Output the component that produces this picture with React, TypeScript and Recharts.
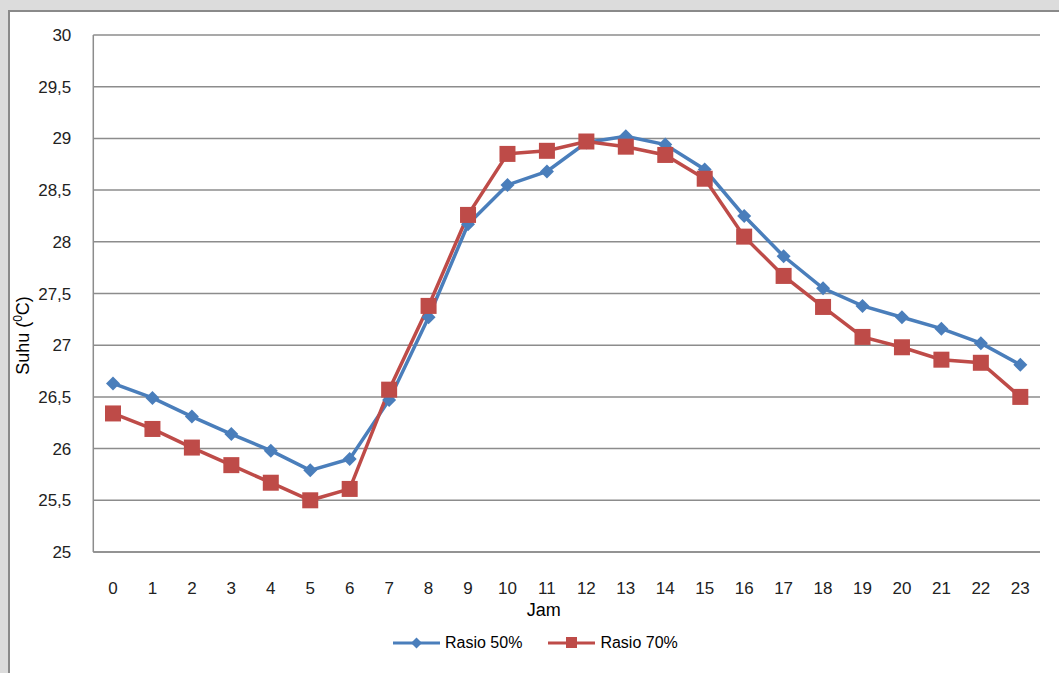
import React from 'react';
import { LineChart, Line, XAxis, YAxis, CartesianGrid } from 'recharts';

const hours = ['0', '1', '2', '3', '4', '5', '6', '7', '8', '9', '10', '11', '12', '13', '14', '15', '16', '17', '18', '19', '20', '21', '22', '23'];
const rasio50 = [26.63, 26.49, 26.31, 26.14, 25.98, 25.79, 25.9, 26.47, 27.27, 28.17, 28.55, 28.68, 28.96, 29.02, 28.94, 28.7, 28.25, 27.86, 27.55, 27.38, 27.27, 27.16, 27.02, 26.81];
const rasio70 = [26.34, 26.19, 26.01, 25.84, 25.67, 25.5, 25.61, 26.57, 27.38, 28.26, 28.85, 28.88, 28.97, 28.92, 28.84, 28.61, 28.05, 27.67, 27.37, 27.08, 26.98, 26.86, 26.83, 26.5];
const yTicks = [25, 25.5, 26, 26.5, 27, 27.5, 28, 28.5, 29, 29.5, 30];

const data = hours.map((h, i) => ({ jam: h, r50: rasio50[i], r70: rasio70[i] }));

const BLUE = '#4a7ebb';
const RED = '#be4b48';
const FONT = '"Liberation Sans", Arial, sans-serif';

const Diamond = (props: any) => {
  const { cx, cy } = props;
  if (cx == null || cy == null) return null;
  const r = 7;
  return <path d={`M${cx},${cy - r}L${cx + r},${cy}L${cx},${cy + r}L${cx - r},${cy}Z`} fill={BLUE} />;
};

const Square = (props: any) => {
  const { cx, cy } = props;
  if (cx == null || cy == null) return null;
  const s = 8;
  return <rect x={cx - s} y={cy - s} width={s * 2} height={s * 2} fill={RED} />;
};

const YLabel = (props: any) => {
  const vb = props.viewBox || {};
  const cy = vb.y + vb.height / 2 + 42;
  return (
    <text x={0} y={0} transform={`translate(29, ${cy}) rotate(-90)`} textAnchor="middle" fill="#000" fontSize={18} fontFamily={FONT}>
      Suhu (<tspan fontSize={12} dy={-7}>0</tspan><tspan dy={7}>C)</tspan>
    </text>
  );
};

export default function App() {
  return (
    <div style={{ position: 'fixed', left: 0, top: 0, width: 1059, height: 673, background: '#dcdcdc', overflow: 'hidden' }}>
      <div style={{ position: 'absolute', left: 8, top: 10, width: 1100, height: 700, background: '#fff', borderLeft: '2px solid #8a8a8a', borderTop: '2px solid #8a8a8a' }} />
      <div style={{ position: 'absolute', left: 0, top: 0 }}>
        <LineChart width={1059} height={673} data={data} margin={{ top: 35, right: 19, left: 0, bottom: 61 }}>
          <CartesianGrid vertical={false} stroke="#8c8c8c" strokeWidth={1.5} />
          <XAxis
            dataKey="jam"
            axisLine={{ stroke: '#8c8c8c', strokeWidth: 1.5 }}
            tickLine={false}
            tickSize={0}
            tickMargin={30}
            height={60}
            padding={{ left: 19.7, right: 19.7 }}
            tick={{ fill: '#222', fontSize: 17, fontFamily: FONT }}
            interval={0}
            label={{ value: 'Jam', position: 'insideBottom', offset: -4, dx: -23, fill: '#000', fontSize: 18, fontFamily: FONT }}
          />
          <YAxis
            domain={[25, 30]}
            ticks={yTicks}
            width={93.3}
            axisLine={{ stroke: '#8c8c8c', strokeWidth: 1.5 }}
            tickLine={false}
            tickSize={0}
            tickMargin={22}
            tick={{ fill: '#222', fontSize: 17, fontFamily: FONT }}
            tickFormatter={(v) => String(v).replace('.', ',')}
            label={<YLabel />}
          />
          <Line dataKey="r50" stroke={BLUE} strokeWidth={3.5} dot={<Diamond />} activeDot={false} isAnimationActive={false} />
          <Line dataKey="r70" stroke={RED} strokeWidth={3.5} dot={<Square />} activeDot={false} isAnimationActive={false} />
        </LineChart>
      </div>
      <div style={{ position: 'absolute', top: 633, left: 393, display: 'flex', alignItems: 'center', fontFamily: FONT, fontSize: 16, color: '#000' }}>
        <svg width={48} height={20}>
          <line x1={0} y1={10} x2={47} y2={10} stroke={BLUE} strokeWidth={3} />
          <path d="M23.5,4.5L29,10L23.5,15.5L18,10Z" fill={BLUE} />
        </svg>
        <span style={{ marginLeft: 4 }}>Rasio 50%</span>
        <svg width={48} height={20} style={{ marginLeft: 26 }}>
          <line x1={0} y1={10} x2={47} y2={10} stroke={RED} strokeWidth={3} />
          <rect x={18} y={4} width={11} height={11} fill={RED} />
        </svg>
        <span style={{ marginLeft: 4 }}>Rasio 70%</span>
      </div>
    </div>
  );
}
